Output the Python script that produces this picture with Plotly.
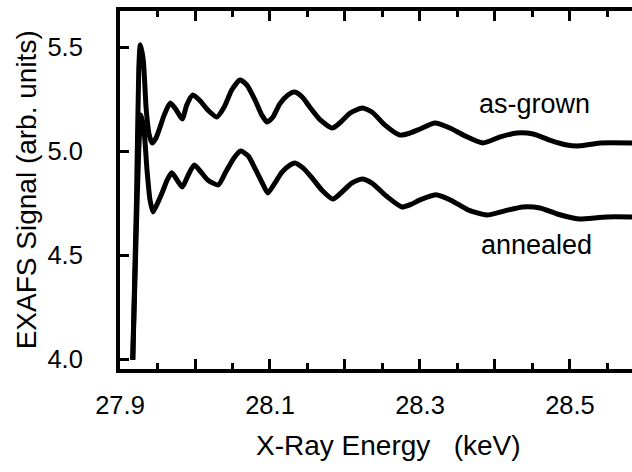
import plotly.graph_objects as go

# ---- data ----
energy_asgrown = [27.917, 27.922, 27.925, 27.927, 27.931, 27.935, 27.939, 27.943, 27.948, 27.953,
                  27.959, 27.967, 27.975, 27.983, 27.989, 27.997, 28.007, 28.017, 28.029, 28.039,
                  28.049, 28.060, 28.069, 28.080, 28.089, 28.096, 28.104, 28.113, 28.124, 28.133,
                  28.143, 28.153, 28.167, 28.183, 28.193, 28.207, 28.223, 28.236, 28.253, 28.273,
                  28.287, 28.300, 28.320, 28.340, 28.360, 28.384, 28.407, 28.429, 28.451, 28.473,
                  28.496, 28.513, 28.540, 28.583]
signal_asgrown = [3.996, 4.766, 5.391, 5.512, 5.439, 5.199, 5.078, 5.040, 5.064, 5.112,
                  5.175, 5.232, 5.199, 5.155, 5.223, 5.271, 5.242, 5.199, 5.165, 5.213,
                  5.295, 5.343, 5.319, 5.247, 5.175, 5.141, 5.165, 5.228, 5.271, 5.285,
                  5.261, 5.213, 5.151, 5.112, 5.136, 5.184, 5.208, 5.189, 5.127, 5.078,
                  5.088, 5.107, 5.136, 5.112, 5.074, 5.040, 5.069, 5.088, 5.083, 5.054,
                  5.030, 5.026, 5.040, 5.040]

energy_annealed = [27.917, 27.921, 27.925, 27.928, 27.932, 27.936, 27.940, 27.944, 27.949, 27.956,
                   27.963, 27.969, 27.976, 27.983, 27.991, 27.999, 28.008, 28.017, 28.031, 28.041,
                   28.052, 28.061, 28.071, 28.081, 28.091, 28.097, 28.105, 28.116, 28.127, 28.133,
                   28.144, 28.156, 28.169, 28.184, 28.196, 28.209, 28.223, 28.236, 28.255, 28.276,
                   28.289, 28.300, 28.323, 28.343, 28.364, 28.389, 28.413, 28.437, 28.460, 28.483,
                   28.504, 28.513, 28.549, 28.583]
signal_annealed = [3.996, 4.525, 5.006, 5.175, 5.103, 4.910, 4.766, 4.708, 4.742, 4.799,
                   4.862, 4.896, 4.862, 4.828, 4.886, 4.934, 4.900, 4.862, 4.838, 4.900,
                   4.968, 5.001, 4.977, 4.910, 4.838, 4.799, 4.838, 4.900, 4.934, 4.944,
                   4.920, 4.872, 4.814, 4.770, 4.804, 4.847, 4.867, 4.847, 4.785, 4.732,
                   4.746, 4.766, 4.790, 4.761, 4.718, 4.693, 4.713, 4.732, 4.727, 4.698,
                   4.679, 4.674, 4.684, 4.684]

x_major_ticks = [27.9, 28.0, 28.1, 28.2, 28.3, 28.4, 28.5, 28.6]
x_major_text = ["27.9", "", "28.1", "", "28.3", "", "28.5", ""]
x_minor_ticks = [27.95, 28.05, 28.15, 28.25, 28.35, 28.45, 28.55]
y_ticks = [4.0, 4.5, 5.0, 5.5]
y_text = ["4.0", "4.5", "5.0", "5.5"]

FONT = "Liberation Sans, Arial, Helvetica, sans-serif"
X_MAX = 28.5827
TICK_COLOR = "black"

fig = go.Figure()
for xs, ys in [(energy_asgrown, signal_asgrown), (energy_annealed, signal_annealed)]:
    fig.add_trace(go.Scatter(x=xs, y=ys, mode="lines",
                             line=dict(color="black", width=5, shape="spline", smoothing=0.6),
                             showlegend=False, hoverinfo="skip"))

fig.update_layout(
    width=632, height=472,
    margin=dict(l=120, r=0, t=11, b=103),
    paper_bgcolor="white", plot_bgcolor="white",
    font=dict(family=FONT, color="black", size=25),
    xaxis=dict(range=[27.9, X_MAX], tickmode="array", tickvals=x_major_ticks, ticktext=x_major_text,
               ticks="inside", ticklen=10, tickwidth=2.5, tickcolor=TICK_COLOR,
               showline=True, linewidth=4, linecolor="black", mirror="ticks",
               showgrid=False, zeroline=False, ticklabelstandoff=10,
               tickfont=dict(size=25.5),
               minor=dict(tickmode="array", tickvals=x_minor_ticks, ticks="inside",
                          ticklen=6, tickwidth=2.5, tickcolor=TICK_COLOR, showgrid=False)),
    yaxis=dict(range=[3.952, 5.675], tickmode="array", tickvals=y_ticks, ticktext=y_text,
               ticks="inside", ticklen=9, tickwidth=2.5, tickcolor=TICK_COLOR,
               showline=True, linewidth=4, linecolor="black",
               showgrid=False, zeroline=False, ticklabelstandoff=28,
               tickfont=dict(size=25.5)),
    annotations=[
        dict(text="X-Ray Energy\u00a0\u00a0\u00a0(keV)", xref="paper", yref="paper",
             x=0.525, y=-0.215, xanchor="center", yanchor="middle", showarrow=False,
             font=dict(size=28)),
        dict(text="EXAFS Signal (arb. units)", xref="paper", yref="paper",
             x=-0.183, y=0.50, xanchor="center", yanchor="middle", showarrow=False,
             textangle=-90, font=dict(size=28)),
        dict(text="as-grown", xref="x", yref="y", x=28.453, y=5.228,
             xanchor="center", yanchor="middle", showarrow=False, font=dict(size=27)),
        dict(text="annealed", xref="x", yref="y", x=28.455, y=4.548,
             xanchor="center", yanchor="middle", showarrow=False, font=dict(size=27)),
    ],
)

fig.write_html("out.html")
